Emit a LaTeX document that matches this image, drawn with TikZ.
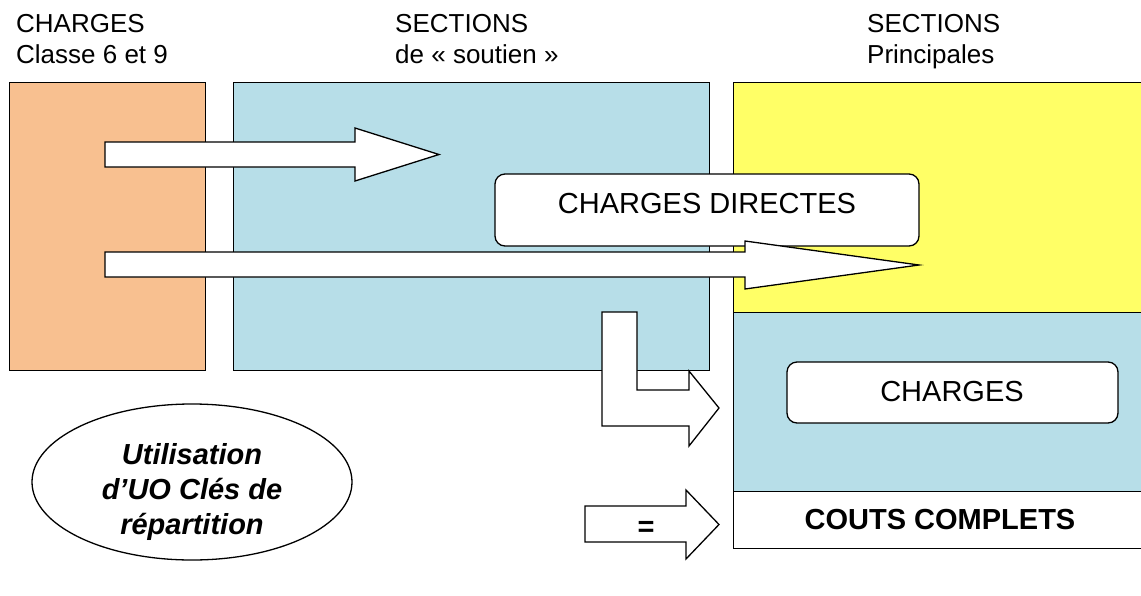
\documentclass[tikz,border=0pt]{standalone}
\usepackage{fontspec}
\setmainfont{Liberation Sans}
\usetikzlibrary{shapes.geometric}
\definecolor{peach}{HTML}{F8C090}
\definecolor{sky}{HTML}{B7DEE8}
\definecolor{lemon}{HTML}{FFFF66}
\begin{document}
\begin{tikzpicture}[x=1pt,y=-1pt,
  sect/.style={draw=black, line width=1.3pt, inner sep=0pt, anchor=north west},
  blockarrow/.style={draw=black, fill=white, line width=1.3pt, line join=miter},
  hdr/.style={anchor=base west, inner sep=0pt, font=\fontsize{26}{30}\selectfont},
  boxtxt/.style={anchor=base, inner sep=0pt, font=\fontsize{29}{34}\selectfont},
  roundbox/.style={draw=black, fill=white, rounded corners=10pt, line width=1.3pt, inner sep=0pt}]
\useasboundingbox (0,0) rectangle (1141,595);
\clip (0,0) rectangle (1141,595);

% headers
\node[hdr] (h1a) at (16,32) {CHARGES};
\node[hdr] (h1b) at (16,63) {Classe 6 et 9};
\node[hdr] (h2a) at (395,32) {SECTIONS};
\node[hdr] (h2b) at (395,63) {de « soutien »};
\node[hdr] (h3a) at (867,32) {SECTIONS};
\node[hdr] (h3b) at (867,63) {Principales};

% sections
\node[sect, fill=peach, minimum width=196pt, minimum height=288pt] (charges) at (9,82) {};
\node[sect, fill=sky, minimum width=476pt, minimum height=288pt] (soutien) at (233,82) {};
\node[sect, fill=lemon, minimum width=420pt, minimum height=230pt] (princ) at (733,82) {};
\node[sect, fill=sky, minimum width=420pt, minimum height=179pt] (princb) at (733,312) {};
\node[sect, fill=white, minimum width=420pt, minimum height=57pt] (couts) at (733,491) {};

% arrow 1
\draw[blockarrow] (105,142) -- (355,142) -- (355,128) -- (439,154.5) -- (355,181) -- (355,167) -- (105,167) -- cycle;

% charges directes box
\node[roundbox, minimum width=424pt, minimum height=72pt] (cdbox) at (707,210) {};
\node[boxtxt] (cdtxt) at (707,213) {CHARGES DIRECTES};

% arrow 2
\draw[blockarrow] (105,252) -- (745,252) -- (745,241) -- (919,265) -- (745,289) -- (745,277) -- (105,277) -- cycle;

% L-shaped arrow
\draw[blockarrow] (602,312) -- (637,312) -- (637,390) -- (689,390) -- (689,371) -- (719,408) -- (689,446) -- (689,426) -- (602,426) -- cycle;

% charges box
\node[roundbox, minimum width=331pt, minimum height=61pt] (chbox) at (952.5,392.5) {};
\node[boxtxt] (chtxt) at (952,401) {CHARGES};

% couts complets text
\node[boxtxt, font=\fontsize{29}{34}\selectfont\bfseries] (cctxt) at (940,529) {COUTS COMPLETS};

% = arrow
\draw[blockarrow] (585,506) -- (686,506) -- (686,490) -- (719,524.5) -- (686,559) -- (686,542) -- (585,542) -- cycle;
\node[inner sep=0pt, font=\fontsize{29}{34}\selectfont\bfseries] (eq) at (646,529) {=};

% ellipse
\node[draw=black, line width=1.3pt, ellipse, minimum width=320pt, minimum height=156pt, inner sep=0pt] (uo) at (192,482) {};
\node[align=center, inner sep=0pt, font=\fontsize{29}{35}\selectfont\bfseries\itshape] (uotxt) at (192,492) {Utilisation\\d’UO Clés de\\répartition};
\end{tikzpicture}
\end{document}
